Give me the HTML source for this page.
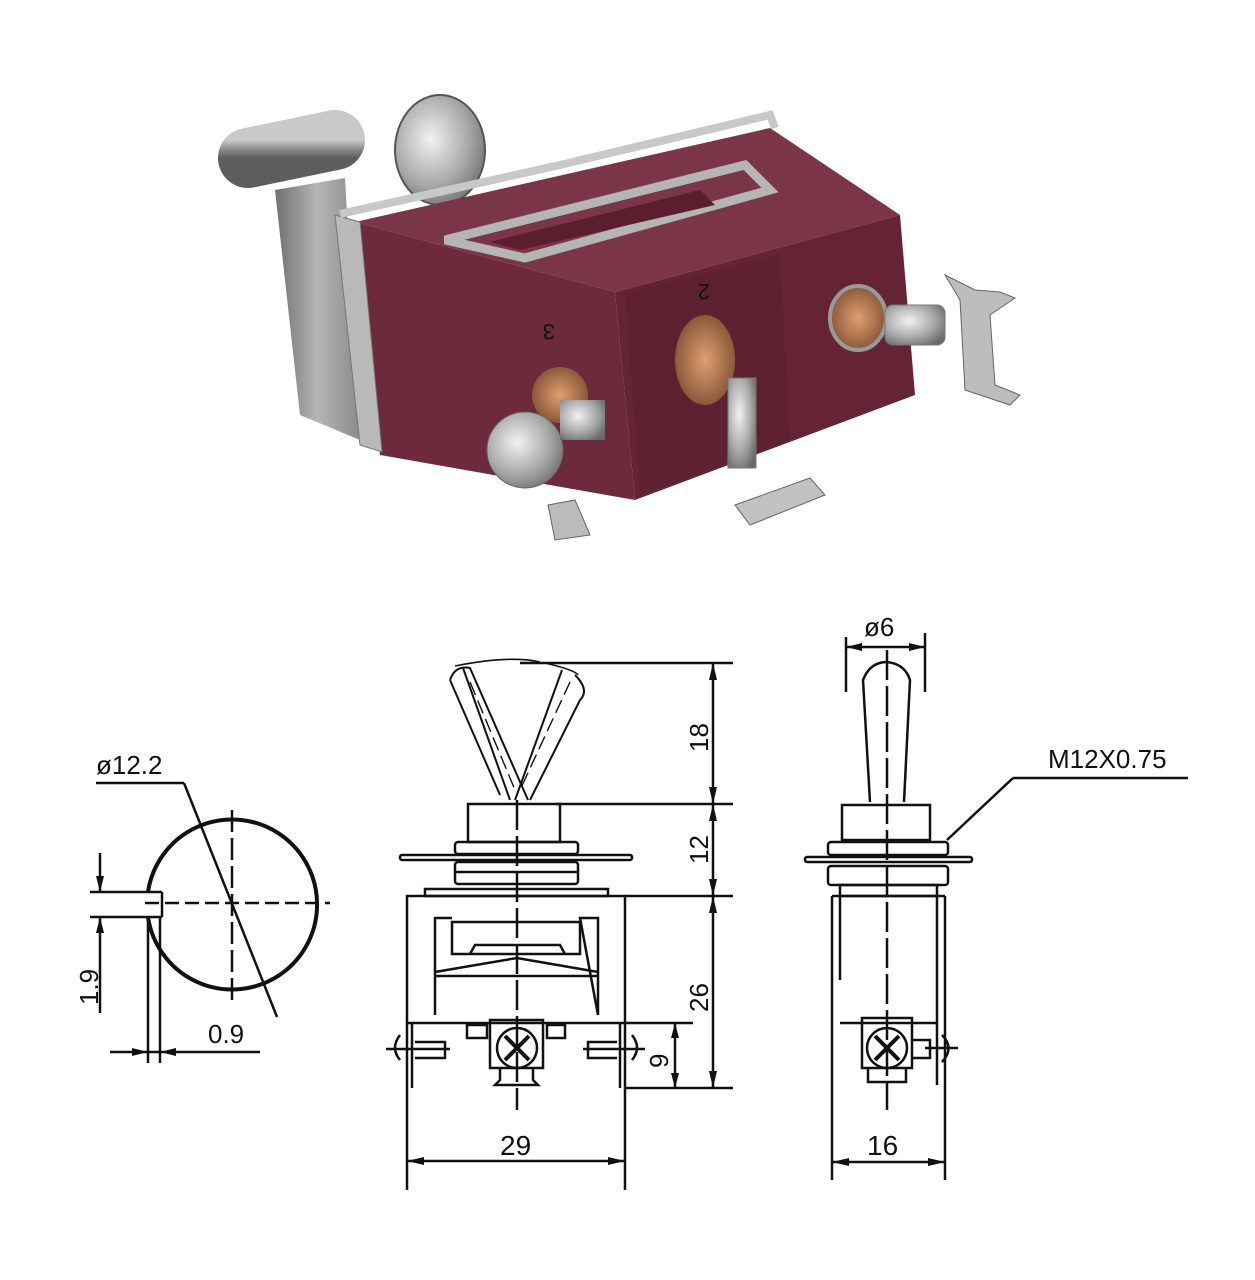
<!DOCTYPE html>
<html><head><meta charset="utf-8"><style>
html,body{margin:0;padding:0;background:#fff;}
svg{display:block;}
text{font-family:"Liberation Sans",sans-serif;fill:#111;}
</style></head><body>
<svg width="1255" height="1280" viewBox="0 0 1255 1280" xmlns="http://www.w3.org/2000/svg">
<defs>
<linearGradient id="cyl" x1="0" y1="0" x2="0" y2="1"><stop offset="0" stop-color="#c9c9c9"/><stop offset="0.5" stop-color="#8e8e8e"/><stop offset="1" stop-color="#5d5d5d"/></linearGradient>
<linearGradient id="plate" x1="0" y1="0" x2="1" y2="0"><stop offset="0" stop-color="#6f6f6f"/><stop offset="0.5" stop-color="#b5b5b5"/><stop offset="1" stop-color="#8a8a8a"/></linearGradient>
<radialGradient id="silv" cx="0.4" cy="0.4" r="0.7"><stop offset="0" stop-color="#f2f2f2"/><stop offset="0.6" stop-color="#a8a8a8"/><stop offset="1" stop-color="#6a6a6a"/></radialGradient>
<radialGradient id="cop" cx="0.5" cy="0.5" r="0.6"><stop offset="0" stop-color="#e0a070"/><stop offset="1" stop-color="#7a4a30"/></radialGradient>
</defs>

<!-- PHOTO -->
<g>
<line x1="248" y1="158" x2="335" y2="140" stroke="url(#cyl)" stroke-width="60" stroke-linecap="round"/>
<ellipse cx="440" cy="150" rx="45" ry="55" fill="url(#silv)" stroke="#555" stroke-width="2"/>
<polygon points="275,190 345,178 360,440 300,415" fill="url(#plate)"/>
<!-- body top face -->
<polygon points="355,222 770,128 900,215 615,292" fill="#7a3548"/>
<!-- body front faces -->
<polygon points="355,222 615,292 635,500 380,455" fill="#6d2a3c"/>
<polygon points="615,292 900,215 915,395 635,500" fill="#652435"/>
<polygon points="625,292 780,255 790,440 640,495" fill="#5e2131"/>
<!-- bracket -->
<polygon points="335,215 360,222 382,452 360,445" fill="#b9b9b9" stroke="#777" stroke-width="1"/>
<polyline points="340,214 560,165 770,115 775,128" fill="none" stroke="#c8c8c8" stroke-width="8"/>
<polygon points="445,240 745,165 770,190 525,258" fill="none" stroke="#b5b5b5" stroke-width="9"/>
<polygon points="490,242 700,190 715,205 520,250" fill="#5a1e2e"/>
<text x="700" y="300" font-size="22" fill="#4a1624" transform="rotate(180 705 292)">2</text>
<text x="545" y="340" font-size="22" fill="#4a1624" transform="rotate(180 550 332)">3</text>
<!-- terminals -->
<circle cx="560" cy="395" r="28" fill="url(#cop)"/>
<circle cx="525" cy="450" r="38" fill="url(#silv)" stroke="#666"/>
<rect x="560" y="400" width="45" height="40" fill="url(#silv)"/>
<polygon points="548,505 575,500 590,535 555,540" fill="#bbb" stroke="#666"/>
<ellipse cx="705" cy="360" rx="30" ry="45" fill="url(#cop)"/>
<rect x="728" y="378" width="28" height="90" fill="url(#silv)" stroke="#777"/>
<polygon points="735,505 810,478 825,495 750,525" fill="#c2c2c2" stroke="#666"/>
<ellipse cx="858" cy="318" rx="28" ry="32" fill="url(#cop)" stroke="#999" stroke-width="4"/>
<rect x="885" y="305" width="60" height="40" rx="8" fill="url(#silv)" stroke="#777"/>
<polygon points="945,275 975,290 1000,292 1015,298 990,315 995,385 1020,395 1010,405 965,390 960,300" fill="#bdbdbd" stroke="#666"/>
</g>

<!-- DRAWINGS -->
<g stroke="#111" fill="none" stroke-width="2.5">
<!-- left circle view -->
<path d="M148,892 A85,85 0 1 1 148,917" stroke-width="4"/>
<line x1="90" y1="892" x2="162" y2="892"/>
<line x1="90" y1="917" x2="162" y2="917"/>
<line x1="162" y1="892" x2="162" y2="917"/>
<line x1="145" y1="903" x2="330" y2="903" stroke-dasharray="14,6"/>
<line x1="232" y1="810" x2="232" y2="1000" stroke-dasharray="22,6"/>
<line x1="96" y1="783" x2="184" y2="783"/>
<line x1="184" y1="783" x2="277" y2="1017"/>
<line x1="100" y1="853" x2="100" y2="892"/>
<line x1="100" y1="917" x2="100" y2="1013"/>
<line x1="148" y1="917" x2="148" y2="1063"/>
<line x1="160" y1="917" x2="160" y2="1063"/>
<line x1="110" y1="1052" x2="260" y2="1052"/>

<!-- front view -->
<line x1="520" y1="663" x2="733" y2="663"/>
<line x1="713" y1="663" x2="713" y2="1088"/>
<line x1="555" y1="804" x2="733" y2="804"/>
<line x1="625" y1="896" x2="733" y2="896"/>
<line x1="625" y1="1088" x2="733" y2="1088"/>
<line x1="625" y1="1023" x2="693" y2="1023"/>
<line x1="675" y1="1023" x2="675" y2="1088"/>
<path d="M455,666 Q510,655 540,662 M545,663 Q575,670 578,675" stroke-width="1.6"/>
<path d="M450,680 Q455,665 470,668 L528,800 M463,668 L510,800 M450,680 L500,795" stroke-width="2"/>
<path d="M575,675 Q590,690 580,700 L530,800 M562,670 L515,800" stroke-width="2"/>
<line x1="470" y1="682" x2="515" y2="790" stroke-dasharray="14,6" stroke-width="1.4"/>
<line x1="570" y1="682" x2="520" y2="790" stroke-dasharray="14,6" stroke-width="1.4"/>
<rect x="468" y="804" width="92" height="38"/>
<rect x="455" y="842" width="123" height="12" rx="3"/>
<rect x="400" y="855" width="232" height="5" rx="2"/>
<rect x="455" y="862" width="123" height="22" rx="3"/>
<line x1="455" y1="872" x2="578" y2="872"/>
<rect x="425" y="889" width="183" height="7"/>
<rect x="407" y="896" width="218" height="127"/>
<path d="M435,1015 L435,918 L452,918 M580,918 L598,918 L598,1015 Z"/>
<rect x="452" y="922" width="128" height="32"/>
<path d="M470,954 L475,945 L560,945 L565,954"/>
<path d="M435,972 L517,958 L598,972"/>
<line x1="435" y1="976" x2="598" y2="976"/>
<rect x="490" y="1020" width="53" height="48"/>
<path d="M500,1068 L500,1080 L495,1085 L538,1085 L533,1080 L533,1068"/>
<circle cx="517" cy="1048" r="20"/>
<path d="M505,1036 L529,1060 M529,1036 L505,1060" stroke-width="4"/>
<rect x="467" y="1025" width="20" height="13"/>
<rect x="547" y="1025" width="18" height="13"/>
<line x1="407" y1="1023" x2="407" y2="1190"/>
<line x1="412" y1="1023" x2="412" y2="1088"/>
<line x1="625" y1="1023" x2="625" y2="1190"/>
<line x1="620" y1="1023" x2="620" y2="1088"/>
<path d="M400,1035 Q390,1048 400,1060 M415,1042 L445,1042 L445,1058 L415,1058 M386,1049 L450,1049"/>
<path d="M632,1035 Q642,1048 632,1060 M617,1042 L588,1042 L588,1058 L617,1058 M583,1049 L645,1049"/>
<line x1="517" y1="800" x2="517" y2="1110" stroke-dasharray="30,6"/>
<line x1="407" y1="1161" x2="625" y2="1161"/>

<!-- side view -->
<line x1="846" y1="637" x2="846" y2="692"/>
<line x1="925" y1="633" x2="925" y2="692"/>
<line x1="846" y1="647" x2="925" y2="647"/>
<path d="M870,802 L863,680 Q870,662 887,662 Q905,664 910,680 L904,802"/>
<rect x="842" y="805" width="88" height="35"/>
<rect x="828" y="842" width="120" height="13" rx="3"/>
<rect x="805" y="857" width="167" height="5" rx="2"/>
<rect x="828" y="866" width="120" height="19" rx="3"/>
<rect x="840" y="885" width="97" height="11"/>
<line x1="832" y1="896" x2="945" y2="896"/>
<line x1="832" y1="896" x2="832" y2="1180"/>
<line x1="945" y1="896" x2="945" y2="1180"/>
<line x1="840" y1="896" x2="840" y2="980"/>
<line x1="937" y1="896" x2="937" y2="1085"/>
<line x1="840" y1="1023" x2="937" y2="1023"/>
<rect x="862" y="1018" width="50" height="50"/>
<path d="M868,1068 L868,1082 L906,1082 L906,1068"/>
<circle cx="887" cy="1048" r="20"/>
<path d="M875,1036 L899,1060 M899,1036 L875,1060" stroke-width="4"/>
<path d="M912,1040 L930,1040 L930,1058 L912,1058 M942,1035 Q955,1048 942,1062 M925,1048 L958,1048"/>
<line x1="887" y1="650" x2="887" y2="1110" stroke-dasharray="30,6"/>
<line x1="832" y1="1162" x2="945" y2="1162"/>
<line x1="1013" y1="778" x2="1188" y2="778"/>
<line x1="1013" y1="778" x2="947" y2="840"/>
</g>
<g fill="#111">
<polygon points="713,663 709,680 717,680"/><polygon points="713,804 709,787 717,787"/>
<polygon points="713,804 709,821 717,821"/><polygon points="713,896 709,879 717,879"/>
<polygon points="713,896 709,913 717,913"/><polygon points="713,1088 709,1071 717,1071"/>
<polygon points="675,1023 671,1038 679,1038"/><polygon points="675,1088 671,1073 679,1073"/>
<polygon points="407,1161 424,1157 424,1165"/><polygon points="625,1161 608,1157 608,1165"/>
<polygon points="832,1162 849,1158 849,1166"/><polygon points="945,1162 928,1158 928,1166"/>
<polygon points="846,647 862,643 862,651"/><polygon points="925,647 909,643 909,651"/>
<polygon points="100,892 96,876 104,876"/><polygon points="100,917 96,933 104,933"/>
<polygon points="148,1052 132,1048 132,1056"/><polygon points="160,1052 176,1048 176,1056"/>
</g>
<g font-size="26">
<text x="96" y="774">ø12.2</text>
<text x="208" y="1043">0.9</text>
<text transform="translate(98,1005) rotate(-90)">1.9</text>
<text transform="translate(708,752) rotate(-90)">18</text>
<text transform="translate(708,864) rotate(-90)">12</text>
<text transform="translate(708,1012) rotate(-90)">26</text>
<text transform="translate(668,1068) rotate(-90)">9</text>
<text x="500" y="1155" font-size="28">29</text>
<text x="867" y="1155" font-size="28">16</text>
<text x="864" y="636">ø6</text>
<text x="1048" y="768">M12X0.75</text>
</g>
</svg>
</body></html>
